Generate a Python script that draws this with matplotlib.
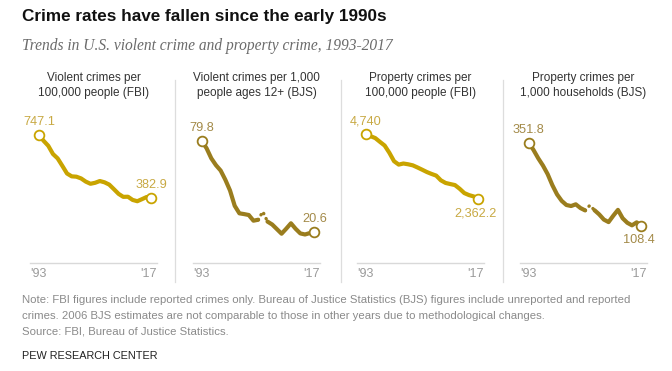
import matplotlib
matplotlib.use("Agg")
import matplotlib.pyplot as plt
import numpy as np

W, H = 672, 371

years = np.arange(1993, 2018)

# FBI violent crimes per 100,000 people
fbi_violent = [747.1, 713.6, 684.5, 636.6, 611.0, 567.6, 523.0, 506.5, 504.5, 494.4,
               475.8, 463.2, 469.0, 479.3, 471.8, 458.6, 431.9, 404.5, 387.1, 387.8,
               369.1, 361.6, 373.7, 386.3, 382.9]
# BJS violent crimes per 1,000 people ages 12+
bjs_violent = [79.8, 75.0, 68.5, 64.0, 60.5, 54.5, 47.5, 37.5, 32.6, 32.1,
               31.5, 27.8, 28.4, 33.7, 27.2, 25.3, 22.3, 19.3, 22.6, 26.1,
               22.5, 19.5, 18.8, 19.7, 20.6]
# FBI property crimes per 100,000 people
fbi_property = [4740.0, 4660.2, 4590.5, 4451.0, 4316.3, 4052.5, 3743.6, 3618.3, 3658.1, 3630.6,
                3591.2, 3514.1, 3431.5, 3346.6, 3276.4, 3214.6, 3041.3, 2945.9, 2905.4, 2868.0,
                2733.6, 2574.1, 2500.5, 2451.6, 2362.2]
# BJS property crimes per 1,000 households
bjs_property = [351.8, 330.0, 306.0, 285.0, 260.0, 228.0, 201.0, 182.0, 170.0, 167.0,
                172.0, 161.1, 154.2, 169.0, 154.8, 142.6, 127.4, 120.2, 138.7, 155.8,
                131.4, 118.1, 110.7, 119.4, 108.4]

titles = ["Violent crimes per\n100,000 people (FBI)",
          "Violent crimes per 1,000\npeople ages 12+ (BJS)",
          "Property crimes per\n100,000 people (FBI)",
          "Property crimes per\n1,000 households (BJS)"]
first_labels = ["747.1", "79.8", "4,740", "351.8"]
last_labels = ["382.9", "20.6", "2,362.2", "108.4"]
last_below = [False, False, True, True]
is_bjs = [False, True, False, True]
ymax = [893, 100, 5620, 447]

FBI_C = "#c9a400"
FBI_T = "#c8a943"
BJS_C = "#9a7d1e"
BJS_T = "#a38a48"

plt.rcParams["font.family"] = ["Liberation Sans", "DejaVu Sans"]

fig = plt.figure(figsize=(W / 100, H / 100), dpi=100)


def fx(px):
    return px / W


def fy(py):
    return 1 - py / H


fig.text(fx(22), fy(17), "Crime rates have fallen since the early 1990s",
         fontsize=12.3, fontweight="bold", color="#111111", va="center", ha="left")
fig.text(fx(22), fy(46), "Trends in U.S. violent crime and property crime, 1993-2017",
         fontsize=11.2, style="italic", color="#6b6b6b", va="center", ha="left",
         family=["Liberation Serif", "DejaVu Serif"])

lefts = [30, 193, 357, 520]
ax_w = 127
top, bottom = 110, 263.3

for i, vals in enumerate([fbi_violent, bjs_violent, fbi_property, bjs_property]):
    ax = fig.add_axes([fx(lefts[i]), fy(bottom), fx(ax_w), (bottom - top) / H])
    v = np.array(vals, dtype=float)
    lc = BJS_C if is_bjs[i] else FBI_C
    tc = BJS_T if is_bjs[i] else FBI_T

    if is_bjs[i]:
        solid = v.copy()
        solid[years == 2006] = np.nan
        ax.plot(years, solid, color=lc, lw=3.0, solid_capstyle="round",
                solid_joinstyle="round", zorder=2)
        m = (years >= 2005) & (years <= 2007)
        ax.plot(years[m], v[m], color=lc, lw=2.4, ls=(0, (0.1, 1.6)),
                dash_capstyle="round", zorder=2)
    else:
        ax.plot(years, v, color=lc, lw=3.0, solid_capstyle="round",
                solid_joinstyle="round", zorder=2)

    for j in (0, -1):
        ax.plot(years[j], v[j], "o", ms=7, mfc="white", mec=lc, mew=1.3, zorder=3,
                clip_on=False)

    ax.set_xlim(1991.1, 2018.2)
    ax.set_ylim(0, ymax[i])
    ax.annotate(first_labels[i], (years[0], v[0]), xytext=(0, 5),
                textcoords="offset points", ha="center", va="bottom",
                fontsize=9.2, color=tc)
    if last_below[i]:
        ax.annotate(last_labels[i], (years[-1], v[-1]), xytext=(-2, -6),
                    textcoords="offset points", ha="center", va="top",
                    fontsize=9.2, color=tc)
    else:
        ax.annotate(last_labels[i], (years[-1], v[-1]), xytext=(0, 5),
                    textcoords="offset points", ha="center", va="bottom",
                    fontsize=9.2, color=tc)

    for s in ("top", "right", "left"):
        ax.spines[s].set_visible(False)
    ax.spines["bottom"].set_color("#d9d9d9")
    ax.spines["bottom"].set_linewidth(1.0)
    ax.set_xticks([])
    ax.set_yticks([])
    ax.patch.set_alpha(0)
    ax.text(0, -0.03, "'93", transform=ax.transAxes, ha="left", va="top",
            fontsize=9, color="#9a9a9a")
    ax.text(1, -0.03, "'17", transform=ax.transAxes, ha="right", va="top",
            fontsize=9, color="#9a9a9a")

    fig.text(fx(lefts[i] + ax_w / 2), fy(85.5), titles[i], ha="center", va="center",
             fontsize=8.5, color="#333333", linespacing=1.35)

# separators between panels
for xs in (175, 341, 503):
    fig.add_artist(plt.Line2D([fx(xs), fx(xs)], [fy(80), fy(282)], color="#dddddd",
                              lw=0.9))

notes = ("Note: FBI figures include reported crimes only. Bureau of Justice Statistics (BJS) figures include unreported and reported\n"
         "crimes. 2006 BJS estimates are not comparable to those in other years due to methodological changes.\n"
         "Source: FBI, Bureau of Justice Statistics.")
fig.text(fx(22), fy(295), notes, ha="left", va="top", fontsize=8.2, color="#8a8a8a",
         linespacing=1.72)
fig.text(fx(22), fy(356), "PEW RESEARCH CENTER", ha="left", va="center", fontsize=7.8,
         color="#222222")

fig.savefig("out.png", dpi=100)
